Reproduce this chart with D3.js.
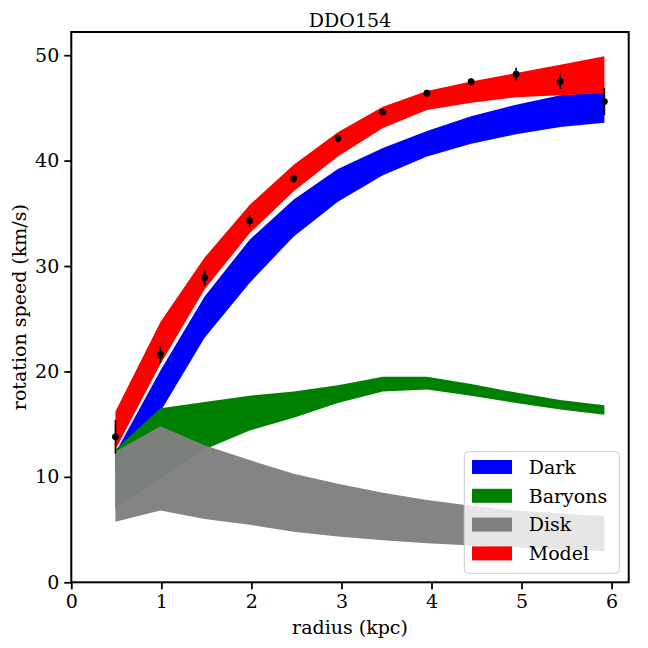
<!DOCTYPE html>
<html>
<head>
<meta charset="utf-8">
<script src="https://cdn.jsdelivr.net/npm/d3@7"></script>
<style>
  body { margin: 0; background: #fff; }
</style>
</head>
<body>
<svg id="chart" width="648" height="648"></svg>
<script>
// radii of the measured points (kpc)
let radius = [0.49, 0.99, 1.48, 1.98, 2.47, 2.96, 3.46, 3.95, 4.44, 4.94, 5.43, 5.92];
let vObs   = [13.8, 21.6, 28.9, 34.3, 38.3, 42.1, 44.6, 46.4, 47.5, 48.2, 47.5, 45.6];
let vErr   = [1.6, 0.8, 0.75, 0.55, 0.4, 0.3, 0.3, 0.3, 0.3, 0.6, 0.7, 1.3];

// bands, lower / upper edge at each radius
let darkLow   = [10.5, 16.2, 23.2, 28.4, 32.8, 36.1, 38.6, 40.4, 41.6, 42.5, 43.2, 43.6];
let darkHigh  = [12.3, 20.1, 27.1, 32.5, 36.3, 39.2, 41.2, 42.8, 44.2, 45.3, 46.2, 46.5];
let baryLow   = [7.0, 9.8, 12.6, 14.4, 15.6, 17.0, 18.1, 18.3, 17.7, 17.0, 16.4, 15.9];
let baryHigh  = [12.6, 16.5, 17.1, 17.7, 18.1, 18.7, 19.5, 19.5, 18.8, 18.0, 17.3, 16.8];
let diskLow   = [5.75, 6.8, 6.0, 5.45, 4.8, 4.35, 4.0, 3.7, 3.5, 3.3, 3.1, 2.95];
let diskHigh  = [12.4, 14.8, 13.0, 11.6, 10.3, 9.35, 8.5, 7.8, 7.25, 6.8, 6.55, 6.3];
let modelLow  = [12.6, 20.7, 27.8, 33.1, 37.1, 40.4, 43.1, 44.8, 45.5, 46.0, 46.2, 46.4];
let modelHigh = [16.2, 24.7, 30.8, 35.8, 39.6, 42.7, 45.1, 46.6, 47.5, 48.3, 49.1, 49.9];

let xTicks = [0, 1, 2, 3, 4, 5, 6];
let yTicks = [0, 10, 20, 30, 40, 50];
let legendNames = ['Dark', 'Baryons', 'Disk', 'Model'];

let FONT = '"DejaVu Serif", "Liberation Serif", serif';

let svg = d3.select('#chart');
// plot box in px (note: "top" is taken by window, so prefix)
let pLeft = 71.3, pRight = 628.7, pTop = 32, pBottom = 582.3;

let x = d3.scaleLinear().domain([0, 6.19]).range([pLeft, pRight]);
let y = d3.scaleLinear().domain([0, 52.2]).range([pBottom, pTop]);

let bands = [
  {name: 'Dark', color: '#0000ff', lo: darkLow, hi: darkHigh, op: 1},
  {name: 'Baryons', color: '#008000', lo: baryLow, hi: baryHigh, op: 1},
  {name: 'Disk', color: '#808080', lo: diskLow, hi: diskHigh, op: 0.97},
  {name: 'Model', color: '#ff0000', lo: modelLow, hi: modelHigh, op: 1}
];

let area = (b) => d3.area()
  .x((d, i) => x(radius[i]))
  .y0((d, i) => y(b.lo[i]))
  .y1((d, i) => y(b.hi[i]))(radius);

svg.selectAll('path.band')
  .data(bands)
  .enter()
  .append('path')
  .attr('class', 'band')
  .attr('d', (d) => area(d))
  .attr('fill', (d) => d.color)
  .attr('fill-opacity', (d) => d.op);

// error bars + points
let pts = radius.map((r, i) => ({r: r, v: vObs[i], e: vErr[i]}));
svg.selectAll('line.err')
  .data(pts)
  .enter()
  .append('line')
  .attr('class', 'err')
  .attr('x1', (d) => x(d.r)).attr('x2', (d) => x(d.r))
  .attr('y1', (d) => y(d.v - d.e)).attr('y2', (d) => y(d.v + d.e))
  .attr('stroke', '#000')
  .attr('stroke-width', 1.6);

svg.selectAll('circle.pt')
  .data(pts)
  .enter()
  .append('circle')
  .attr('class', 'pt')
  .attr('cx', (d) => x(d.r))
  .attr('cy', (d) => y(d.v))
  .attr('r', 3.4)
  .attr('fill', '#000');

// axes
let xAxis = svg.append('g')
  .attr('transform', `translate(0,${pBottom})`)
  .call(d3.axisBottom(x).tickValues(xTicks).tickFormat(d3.format('d')).tickSize(7).tickPadding(5));
let yAxis = svg.append('g')
  .attr('transform', `translate(${pLeft},0)`)
  .call(d3.axisLeft(y).tickValues(yTicks).tickFormat(d3.format('d')).tickSize(7).tickPadding(5));

[xAxis, yAxis].forEach((a) => {
  a.select('.domain').remove();
  a.attr('font-family', null).attr('font-size', null);
  a.selectAll('line').attr('stroke', '#000').attr('stroke-width', 1.8);
  a.selectAll('text')
    .style('font-family', FONT)
    .style('font-size', '19px')
    .attr('fill', '#000');
});

svg.append('rect')
  .attr('x', pLeft).attr('y', pTop)
  .attr('width', pRight - pLeft).attr('height', pBottom - pTop)
  .attr('fill', 'none')
  .attr('stroke', '#000')
  .attr('stroke-width', 2);

// labels
let label = (txt) => svg.append('text')
  .attr('text-anchor', 'middle')
  .style('font-family', FONT)
  .style('font-size', '19px')
  .text(txt);

label('DDO154').attr('x', (pLeft + pRight) / 2).attr('y', 27);
label('radius (kpc)').attr('x', (pLeft + pRight) / 2).attr('y', 634);
label('rotation speed (km/s)')
  .attr('transform', `translate(26,${(pTop + pBottom) / 2}) rotate(-90)`);

// legend
let lg = svg.append('g').attr('transform', 'translate(464.3,451.7)');
lg.append('rect')
  .attr('width', 155).attr('height', 121.6)
  .attr('rx', 4)
  .attr('fill', '#fff').attr('fill-opacity', 0.8)
  .attr('stroke', '#cccccc').attr('stroke-width', 1);

let rows = lg.selectAll('g.row')
  .data(legendNames)
  .enter()
  .append('g')
  .attr('class', 'row')
  .attr('transform', (d, i) => `translate(0,${15.3 + i * 28.8})`);

rows.append('rect')
  .attr('x', 7.7).attr('y', -7)
  .attr('width', 40).attr('height', 14)
  .attr('fill', (d) => bands.find((b) => b.name == d).color);

rows.append('text')
  .attr('x', 64.4).attr('y', 0)
  .attr('dy', '0.36em')
  .style('font-family', FONT)
  .style('font-size', '19px')
  .text((d) => d);
</script>
</body>
</html>
